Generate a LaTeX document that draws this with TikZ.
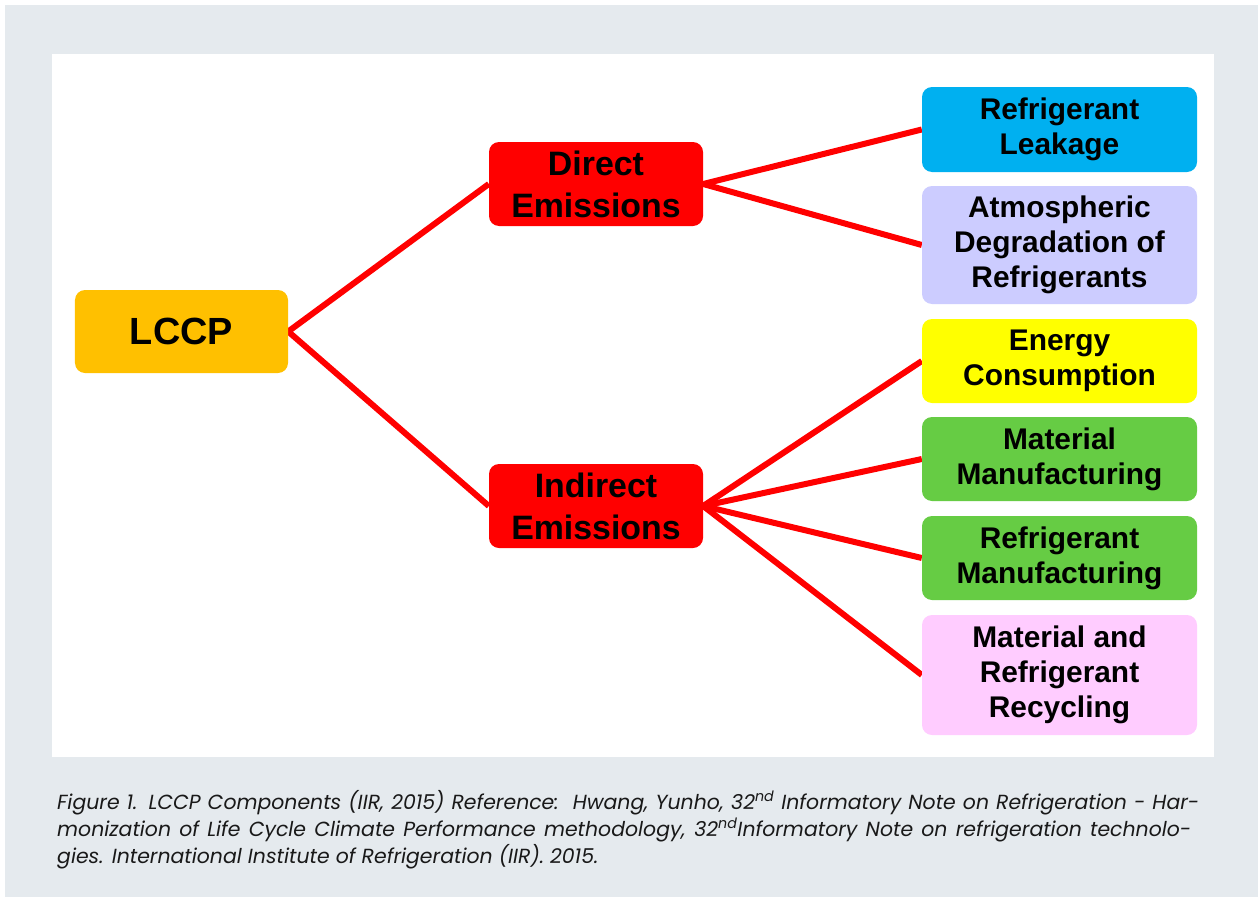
\documentclass[tikz,border=0pt]{standalone}
\usepackage{fontspec}
\setmainfont{Liberation Sans}
\newfontfamily\capfont{Poppins}
\usetikzlibrary{backgrounds}
\definecolor{bggray}{RGB}{229,234,238}
\definecolor{lccpc}{HTML}{FFC000}
\definecolor{redc}{HTML}{FF0000}
\definecolor{bluec}{HTML}{00B0F0}
\definecolor{lavc}{HTML}{CCCCFF}
\definecolor{yelc}{HTML}{FFFF00}
\definecolor{greenc}{HTML}{66CC44}
\definecolor{pinkc}{HTML}{FFCCFF}
\tikzset{
  box/.style={rounded corners=10bp, inner sep=0pt, align=center, text=black},
  rootbox/.style={box, fill=lccpc, minimum width=213bp, minimum height=83bp, font=\fontsize{38}{44}\selectfont\bfseries},
  midbox/.style={box, fill=redc, minimum width=214bp, minimum height=84bp, font=\fontsize{34}{42}\selectfont\bfseries},
  leafbox/.style={box, minimum width=275bp, font=\fontsize{30}{35}\selectfont\bfseries},
  link/.style={draw=redc, line width=6bp},
  captext/.style={anchor=base west, inner sep=0pt, font=\capfont\itshape\fontsize{20.5}{27}\selectfont, text=black!90}
}
\begin{document}
\begin{tikzpicture}[x=1bp,y=-1bp]
\useasboundingbox (0,0) rectangle (1258,897);

\node[rootbox] (lccp) at (181.5,331.5) {LCCP};
\node[midbox] (direct) at (596,184) {Direct\\Emissions};
\node[midbox] (indirect) at (596,506) {Indirect\\Emissions};

\node[leafbox, fill=bluec, minimum height=85bp] (leak) at (1059.5,129.5) {Refrigerant\\Leakage};
\node[leafbox, fill=lavc, minimum height=118bp] (atmos) at (1059.5,245) {Atmospheric\\Degradation of\\Refrigerants};
\node[leafbox, fill=yelc, minimum height=84bp] (energy) at (1059.5,361) {Energy\\Consumption};
\node[leafbox, fill=greenc, minimum height=84bp] (matman) at (1059.5,459) {Material\\Manufacturing};
\node[leafbox, fill=greenc, minimum height=84bp] (refman) at (1059.5,558) {Refrigerant\\Manufacturing};
\node[leafbox, fill=pinkc, minimum height=120bp] (recyc) at (1059.5,675) {Material and\\Refrigerant\\Recycling};

\begin{scope}[on background layer]
\fill[white] (0,0) rectangle (1258,897);
\fill[bggray] (5,5) rectangle (1258,897);
\fill[white] (52,54) rectangle (1214,757);
\draw[link] (lccp.east) -- (direct.west);
\draw[link] (lccp.east) -- (indirect.west);
\draw[link] (direct.east) -- (leak.west);
\draw[link] (direct.east) -- (atmos.west);
\draw[link] (indirect.east) -- (energy.west);
\draw[link] (indirect.east) -- (matman.west);
\draw[link] (indirect.east) -- (refman.west);
\draw[link] (indirect.east) -- (recyc.west);
\end{scope}

\node[captext] (cap1) at (57,809) {\makebox[1142bp][s]{Figure 1. LCCP Components (IIR, 2015) Reference:\ \ Hwang, Yunho, 32\textsuperscript{nd} Informatory Note on Refrigeration - Har-}};
\node[captext] (cap2) at (57,836) {\makebox[1134bp][s]{monization of Life Cycle Climate Performance methodology, 32\textsuperscript{nd}Informatory Note on refrigeration technolo-}};
\node[captext] (cap3) at (57,863) {gies. International Institute of Refrigeration (IIR). 2015.};
\end{tikzpicture}
\end{document}
